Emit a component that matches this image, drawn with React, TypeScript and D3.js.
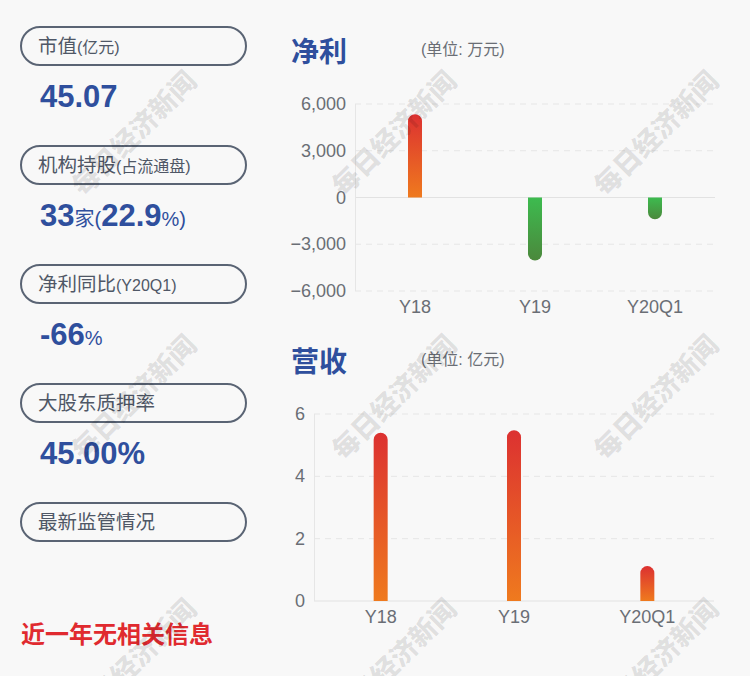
import React from "react";
import * as d3 from "d3";

const categories = ["Y18", "Y19", "Y20Q1"];
const profitValues = [5350, -4050, -1400];
const revenueValues = [5.4, 5.48, 1.12];
const profitTicks = [6000, 3000, 0, -3000, -6000];
const revenueTicks = [6, 4, 2, 0];

const infoLabels = [
  { main: "市值", sub: "(亿元)" },
  { main: "机构持股", sub: "(占流通盘)" },
  { main: "净利同比", sub: "(Y20Q1)" },
  { main: "大股东质押率", sub: "" },
  { main: "最新监管情况", sub: "" },
];

const W = 750;
const H = 676;
const BLUE = "#2f4f9d";
const LABEL = "#4f5766";
const AXIS = "#6a6e75";
const FONT = "'Liberation Sans', 'Noto Sans CJK SC', Arial, sans-serif";
const CJK = "'Noto Sans CJK SC', 'Liberation Sans', sans-serif";

function barPath(x: number, w: number, y0: number, y1: number) {
  const r = w / 2;
  const h = Math.abs(y1 - y0);
  const rr = Math.min(r, h);
  if (y1 < y0) {
    return `M${x},${y0} L${x},${y1 + rr} A${r},${rr} 0 0 1 ${x + w},${y1 + rr} L${x + w},${y0} Z`;
  }
  return `M${x},${y0} L${x},${y1 - rr} A${r},${rr} 0 0 0 ${x + w},${y1 - rr} L${x + w},${y0} Z`;
}

function Watermark({ cx, cy }: { cx: number; cy: number }) {
  return (
    <text
      x={cx}
      y={cy}
      transform={`rotate(-45 ${cx} ${cy})`}
      textAnchor="middle"
      dominantBaseline="central"
      fontFamily="'Noto Sans CJK SC', sans-serif"
      fontWeight={900}
      fontSize={27}
      fill="#000"
      fillOpacity={0.1}
    >
      每日经济新闻
    </text>
  );
}

export default function App() {
  const pX = d3.scaleBand().domain(categories).range([355, 715]);
  const pY = d3.scaleLinear().domain([-6000, 6000]).range([291, 104]);
  const rX = d3.scaleBand().domain(categories).range([314, 714]);
  const rY = d3.scaleLinear().domain([0, 6]).range([601, 414]);
  const barW = 14;

  const boxTop = (i: number) => 27 + i * 119;

  return (
    <div style={{ position: "absolute", left: 0, top: 0, width: W, height: H }}>
      <svg width={W} height={H} viewBox={`0 0 ${W} ${H}`} style={{ display: "block" }}>
        <defs>
          <linearGradient id="redGrad" x1="0" y1="0" x2="0" y2="1">
            <stop offset="0%" stopColor="#dc3131" />
            <stop offset="100%" stopColor="#ef7a1e" />
          </linearGradient>
          <linearGradient id="greenGrad" x1="0" y1="0" x2="0" y2="1">
            <stop offset="0%" stopColor="#3dbb4f" />
            <stop offset="100%" stopColor="#4b883c" />
          </linearGradient>
        </defs>
        <rect x={0} y={0} width={W} height={H} fill="#f8f8f8" />

        {/* Left info panel */}
        {infoLabels.map((d, i) => (
          <g key={i}>
            <rect
              x={21}
              y={boxTop(i)}
              width={225}
              height={38}
              rx={19}
              ry={19}
              fill="none"
              stroke="#5a6474"
              strokeWidth={2}
            />
            <text x={38} y={boxTop(i) + 26} fill={LABEL} fontFamily={FONT}>
              <tspan fontSize={19.5}>{d.main}</tspan>
              {d.sub && <tspan fontSize={16}>{d.sub}</tspan>}
            </text>
          </g>
        ))}
        <text x={40} y={boxTop(0) + 80} fill={BLUE} fontFamily={FONT} fontWeight={700} fontSize={31}>
          45.07
        </text>
        <text x={40} y={boxTop(1) + 80} fill={BLUE} fontFamily={FONT}>
          <tspan fontWeight={700} fontSize={31}>33</tspan>
          <tspan fontSize={20}>家(</tspan>
          <tspan fontWeight={700} fontSize={31}>22.9</tspan>
          <tspan fontSize={20}>%)</tspan>
        </text>
        <text x={40} y={boxTop(2) + 80} fill={BLUE} fontFamily={FONT}>
          <tspan fontWeight={700} fontSize={31}>-66</tspan>
          <tspan fontSize={20}>%</tspan>
        </text>
        <text x={40} y={boxTop(3) + 80} fill={BLUE} fontFamily={FONT} fontWeight={700} fontSize={31}>
          45.00%
        </text>
        <text x={21} y={643} fill="#e02a2f" fontFamily={CJK} fontWeight={700} fontSize={24}>
          近一年无相关信息
        </text>

        {/* Profit chart */}
        <text x={291} y={62} fill={BLUE} fontFamily={CJK} fontWeight={700} fontSize={28}>
          净利
        </text>
        <text x={421} y={55} fill={AXIS} fontFamily={FONT} fontSize={16}>
          (单位: 万元)
        </text>
        {profitTicks.map((t) => (
          <g key={t}>
            <line
              x1={355}
              x2={715}
              y1={pY(t)}
              y2={pY(t)}
              stroke={t === 0 ? "#e2e2e2" : "#e6e6e6"}
              strokeDasharray={t === 0 ? undefined : "6,5"}
            />
            <text
              x={346}
              y={pY(t)}
              textAnchor="end"
              dominantBaseline="central"
              fill={AXIS}
              fontFamily={FONT}
              fontSize={18}
            >
              {d3.format(",")(t)}
            </text>
          </g>
        ))}
        <line x1={355.5} x2={355.5} y1={104} y2={291} stroke="#e6e6e6" />
        {categories.map((c, i) => {
          const cx = (pX(c) as number) + pX.bandwidth() / 2;
          const v = profitValues[i];
          return (
            <g key={c}>
              <path
                d={barPath(cx - barW / 2, barW, pY(0), pY(v))}
                fill={v >= 0 ? "url(#redGrad)" : "url(#greenGrad)"}
              />
              <text
                x={cx}
                y={307}
                textAnchor="middle"
                dominantBaseline="central"
                fill={AXIS}
                fontFamily={FONT}
                fontSize={18}
              >
                {c}
              </text>
            </g>
          );
        })}

        {/* Revenue chart */}
        <text x={291} y={372} fill={BLUE} fontFamily={CJK} fontWeight={700} fontSize={28}>
          营收
        </text>
        <text x={421} y={365} fill={AXIS} fontFamily={FONT} fontSize={16}>
          (单位: 亿元)
        </text>
        {revenueTicks.map((t) => (
          <g key={t}>
            <line
              x1={314}
              x2={714}
              y1={rY(t)}
              y2={rY(t)}
              stroke={t === 0 ? "#e2e2e2" : "#e6e6e6"}
              strokeDasharray={t === 0 ? undefined : "6,5"}
            />
            <text
              x={305}
              y={rY(t)}
              textAnchor="end"
              dominantBaseline="central"
              fill={AXIS}
              fontFamily={FONT}
              fontSize={18}
            >
              {t}
            </text>
          </g>
        ))}
        <line x1={314.5} x2={314.5} y1={414} y2={601} stroke="#e6e6e6" />
        {categories.map((c, i) => {
          const cx = (rX(c) as number) + rX.bandwidth() / 2;
          const v = revenueValues[i];
          return (
            <g key={c}>
              <path d={barPath(cx - barW / 2, barW, rY(0), rY(v))} fill="url(#redGrad)" />
              <text
                x={cx}
                y={617}
                textAnchor="middle"
                dominantBaseline="central"
                fill={AXIS}
                fontFamily={FONT}
                fontSize={18}
              >
                {c}
              </text>
            </g>
          );
        })}

        {/* Watermarks */}
        {[133, 393, 655].map((cx) =>
          [132, 396, 660].map((cy) => <Watermark key={`${cx}-${cy}`} cx={cx} cy={cy} />)
        )}
      </svg>
    </div>
  );
}
